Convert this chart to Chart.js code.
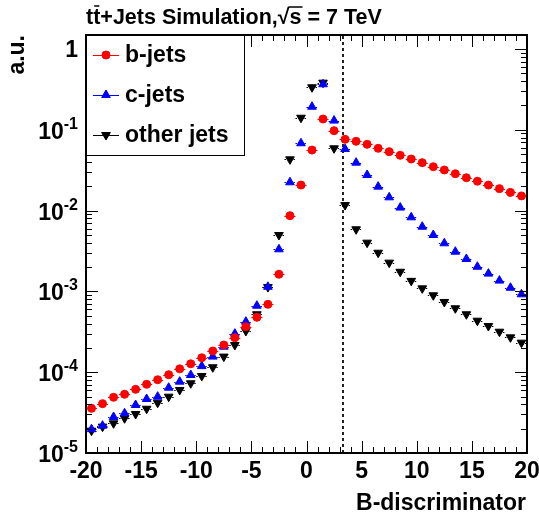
<!DOCTYPE html>
<html><head><meta charset="utf-8">
<script src="https://cdn.jsdelivr.net/npm/chart.js@4.4.1/dist/chart.umd.min.js"></script>
<style>html,body{margin:0;padding:0;background:#fff;}#wrap{width:539px;height:515px;position:relative;}</style>
</head><body><div id="wrap"><canvas id="c"></canvas></div>
<script>
// ---- data ----
const binCenters = [-19.5,-18.5,-17.5,-16.5,-15.5,-14.5,-13.5,-12.5,-11.5,-10.5,-9.5,-8.5,-7.5,-6.5,-5.5,-4.5,-3.5,-2.5,-1.5,-0.5,
  0.5,1.5,2.5,3.5,4.5,5.5,6.5,7.5,8.5,9.5,10.5,11.5,12.5,13.5,14.5,15.5,16.5,17.5,18.5,19.5];
const bJets = [3.57e-5,4.08e-5,4.89e-5,5.33e-5,6.14e-5,7.08e-5,8.07e-5,9.31e-5,1.10e-4,1.27e-4,1.51e-4,1.83e-4,2.17e-4,2.67e-4,3.66e-4,4.78e-4,6.92e-4,1.63e-3,8.65e-3,2.07e-2,
  5.62e-2,0.136,0.0975,0.0762,0.0720,0.0661,0.0590,0.0536,0.0483,0.0435,0.0392,0.0349,0.0318,0.0286,0.0255,0.0231,0.0207,0.0187,0.0168,0.0152];
const cJets = [1.97e-5,2.18e-5,2.79e-5,3.10e-5,3.93e-5,4.66e-5,4.98e-5,6.43e-5,7.64e-5,9.23e-5,1.19e-4,1.56e-4,2.07e-4,3.0e-4,4.22e-4,6.65e-4,1.14e-3,3.32e-3,2.24e-2,6.81e-2,
  0.193,0.366,0.130,0.0578,0.0392,2.76e-2,1.98e-2,1.46e-2,1.09e-2,8.26e-3,6.32e-3,4.99e-3,3.94e-3,3.10e-3,2.52e-3,2.02e-3,1.66e-3,1.36e-3,1.11e-3,9.21e-4];
const otherJets = [1.89e-5,2.12e-5,2.33e-5,2.69e-5,3.04e-5,3.53e-5,4.19e-5,4.98e-5,6.03e-5,7.29e-5,8.98e-5,1.15e-4,1.56e-4,2.17e-4,3.24e-4,5.21e-4,1.13e-3,4.99e-3,4.31e-2,0.141,
  0.336,0.383,0.0590,0.0117,5.87e-3,4.01e-3,3.01e-3,2.27e-3,1.75e-3,1.35e-3,1.09e-3,8.95e-4,7.40e-4,6.18e-4,5.21e-4,4.34e-4,3.73e-4,3.17e-4,2.70e-4,2.32e-4];
const seriesNames = ['b-jets','c-jets','other jets'];
const xTickLabels = [-20,-15,-10,-5,0,5,10,15,20];
const yTickExponents = [0,-1,-2,-3,-4,-5];
const cutValue = 3.3;
const titleParts = ['t','t','+Jets Simulation,','\u221A','s',' = 7 TeV'];
const xTitle = 'B-discriminator';
const yTitle = 'a.u.';

// ---- drawing ----
const FONT = '"Liberation Sans", Arial, Helvetica, sans-serif';
const colors = ['#ff0000','#0000ff','#000000'];

function drawMarker(ctx, style, x, y, color){
  ctx.save(); ctx.fillStyle=color; ctx.strokeStyle=color; ctx.lineWidth=1; ctx.setLineDash([]);
  Chart.helpers.drawPoint(ctx, {pointStyle: style.ps, rotation: style.rot||0, radius: style.r, borderWidth:1}, x, y);
  ctx.fill(); ctx.restore();
}

const decor = {
  id:'rootDecor',
  beforeDatasetsDraw(chart){
    const {ctx, scales:{x,y}, chartArea:a} = chart;
    ctx.save();
    // cut line
    ctx.strokeStyle='#222'; ctx.lineWidth=2; ctx.setLineDash([3,3]);
    const cx = Math.round(x.getPixelForValue(cutValue));
    ctx.beginPath(); ctx.moveTo(cx, a.bottom); ctx.lineTo(cx, a.top); ctx.stroke();
    // horizontal error bars (bin width)
    chart.data.datasets.forEach((ds,i)=>{
      ctx.strokeStyle = ds.borderColor; ctx.lineWidth=1;
      ctx.setLineDash(i===0?[]:[1.5,1.5]);
      ds.data.forEach(p=>{
        const py = Math.round(y.getPixelForValue(p.y))+0.5;
        ctx.beginPath(); ctx.moveTo(x.getPixelForValue(p.x-0.5), py); ctx.lineTo(x.getPixelForValue(p.x+0.5), py); ctx.stroke();
      });
    });
    ctx.restore();
  },
  afterDatasetsDraw(chart){
    const {ctx, scales:{x,y}, chartArea:a} = chart;
    ctx.save();
    ctx.setLineDash([]);
    ctx.strokeStyle='#000'; ctx.fillStyle='#000';
    // ticks
    ctx.lineWidth=1;
    ctx.beginPath();
    for(let v=-20; v<=20; v++){
      const px = Math.round(x.getPixelForValue(v))+0.5;
      const len = xTickLabels.includes(v)?12:6;
      ctx.moveTo(px, a.bottom); ctx.lineTo(px, a.bottom-len);
      ctx.moveTo(px, a.top); ctx.lineTo(px, a.top+len);
    }
    yTickExponents.forEach(e=>{
      for(let m=1;m<=9;m++){
        const v = m*Math.pow(10,e);
        if(v>y.max) continue;
        const py = Math.round(y.getPixelForValue(v))+0.5;
        const len = m===1?12:6;
        ctx.moveTo(a.left, py); ctx.lineTo(a.left+len, py);
        ctx.moveTo(a.right, py); ctx.lineTo(a.right-len, py);
      }
    });
    ctx.stroke();
    // frame
    ctx.lineWidth=2;
    ctx.strokeRect(a.left, a.top, a.right-a.left, a.bottom-a.top);
    // x tick labels
    ctx.font='bold 23px '+FONT; ctx.textAlign='center'; ctx.textBaseline='alphabetic';
    xTickLabels.forEach(v=>{ ctx.fillText(String(v), x.getPixelForValue(v), 478); });
    // y tick labels
    yTickExponents.forEach(e=>{
      const py = y.getPixelForValue(Math.pow(10,e));
      const rx = a.left-8;
      if(e===0){
        ctx.font='bold 23px '+FONT; ctx.textAlign='right'; ctx.textBaseline='alphabetic';
        ctx.fillText('1', rx, py+8);
      } else {
        const ex = String(e);
        ctx.font='bold 16px '+FONT; ctx.textAlign='right'; ctx.textBaseline='alphabetic';
        const ew = ctx.measureText(ex).width;
        ctx.fillText(ex, rx, py-1);
        ctx.font='bold 23px '+FONT;
        ctx.fillText('10', rx-ew, py+9);
      }
    });
    // axis titles
    ctx.font='bold 23px '+FONT; ctx.textAlign='right'; ctx.textBaseline='alphabetic';
    ctx.fillText(xTitle, a.right-1, 510);
    ctx.save(); ctx.translate(24, a.top); ctx.rotate(-Math.PI/2);
    ctx.textAlign='right'; ctx.textBaseline='alphabetic'; ctx.fillText(yTitle, 0, 0); ctx.restore();
    // title
    const fs = 21.5;
    ctx.font='bold '+fs+'px '+FONT; ctx.textAlign='left'; ctx.textBaseline='alphabetic';
    let tx = a.left, ty = 24;
    const pos = titleParts.map(s=>{ const x0=tx; ctx.fillText(s, tx, ty); const w=ctx.measureText(s).width; tx+=w; return [x0,w]; });
    ctx.lineWidth=1.6;
    ctx.beginPath();
    ctx.moveTo(pos[1][0]+1, ty-fs*0.84); ctx.lineTo(pos[1][0]+pos[1][1]-1, ty-fs*0.84);
    const rm = ctx.measureText(titleParts[3]);
    const barY = ty - rm.actualBoundingBoxAscent + 1;
    ctx.moveTo(pos[3][0]+pos[3][1]-1, barY); ctx.lineTo(pos[4][0]+pos[4][1]+1, barY);
    ctx.stroke();
    // legend
    const lx=a.left, ly=a.top, lw=158, lh=120;
    ctx.fillStyle='#fff'; ctx.fillRect(lx, ly, lw, lh);
    ctx.lineWidth=1; ctx.strokeStyle='#000';
    ctx.strokeRect(lx+0.5, ly+0.5, lw, lh);
    const styles = [{ps:'circle',r:4},{ps:'triangle',r:5},{ps:'triangle',r:5,rot:180}];
    chart.data.datasets.forEach((ds,i)=>{
      const ey = ly+20+i*40;
      ctx.strokeStyle=ds.borderColor; ctx.lineWidth=1;
      ctx.beginPath(); ctx.moveTo(lx+7, ey+0.5); ctx.lineTo(lx+33, ey+0.5); ctx.stroke();
      drawMarker(ctx, styles[i], lx+20, ey, ds.borderColor);
      ctx.fillStyle='#000'; ctx.font='bold 23px '+FONT; ctx.textAlign='left'; ctx.textBaseline='middle';
      ctx.fillText(ds.label, lx+39, ey+1);
    });
    ctx.restore();
  }
};

const mk = (vals)=>binCenters.map((x,i)=>({x, y: vals[i]}));
new Chart(document.getElementById('c'), {
  type:'scatter',
  data:{datasets:[
    {label:seriesNames[0], data:mk(bJets), pointStyle:'circle', pointRadius:4, backgroundColor:colors[0], borderColor:colors[0], pointBorderWidth:1},
    {label:seriesNames[1], data:mk(cJets), pointStyle:'triangle', pointRadius:5, backgroundColor:colors[1], borderColor:colors[1], pointBorderWidth:1},
    {label:seriesNames[2], data:mk(otherJets), pointStyle:'triangle', rotation:180, pointRadius:5, backgroundColor:colors[2], borderColor:colors[2], pointBorderWidth:1}
  ]},
  options:{
    responsive:true, maintainAspectRatio:false, animation:false, devicePixelRatio:1, events:[],
    layout:{padding:{left:86, right:12, top:35, bottom:62}},
    scales:{
      x:{type:'linear', min:-20, max:20, display:false},
      y:{type:'logarithmic', min:1e-5, max:1.49, display:false}
    },
    plugins:{legend:{display:false}, tooltip:{enabled:false}, title:{display:false}}
  },
  plugins:[decor]
});
</script></body></html>
